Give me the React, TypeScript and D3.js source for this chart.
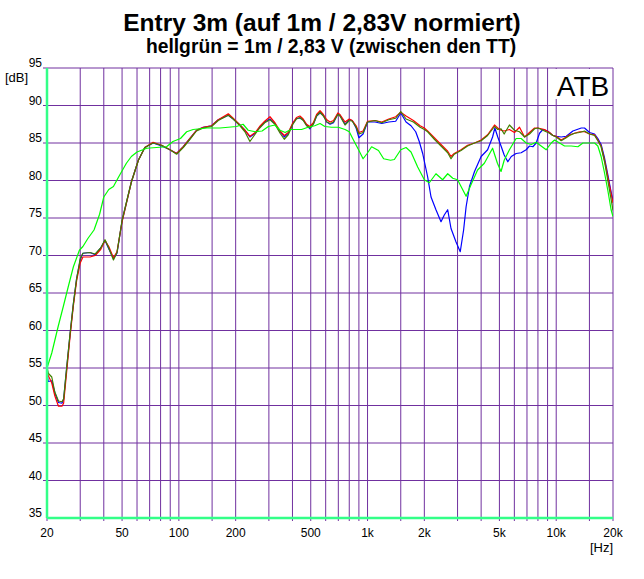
import React from "react";
import * as d3 from "d3";

const W = 644;
const H = 579;

const titleText = "Entry 3m (auf 1m / 2,83V normiert)";
const subtitleText = "hellgrün = 1m / 2,83 V (zwischen den TT)";

const yTicks = [35, 40, 45, 50, 55, 60, 65, 70, 75, 80, 85, 90, 95];
const gridFreqs = [20, 30, 40, 50, 60, 70, 80, 90, 100, 150, 200, 300, 400, 500, 600, 700, 800, 900, 1000, 1500, 2000, 3000, 4000, 5000, 6000, 7000, 8000, 9000, 10000, 15000, 20000];
const xTickValues = [20, 50, 100, 200, 500, 1000, 2000, 5000, 10000, 20000];
const xTickTexts = ["20", "50", "100", "200", "500", "1k", "2k", "5k", "10k", "20k"];

// [Hz, dB]
const redSeries: [number, number][] = [
  [20, 55.0], [20.3, 54.0], [21.2, 53.0], [22, 51.3], [23, 49.9], [24, 49.9], [24.5, 50.3], [25.2, 53.5], [26.5, 59.2], [27.6, 63.3], [28.7, 66.6], [30, 69.0], [31, 69.8], [33.8, 69.8], [36, 70.0], [38.5, 70.8], [40.6, 72.0], [42.5, 71.2], [45, 69.7], [47, 70.5], [50, 74.5], [56, 79.8], [61, 82.7], [66, 84.4], [73, 85.1], [81, 84.7], [89.7, 84.1], [97.3, 83.6], [105.5, 84.5], [114.5, 85.6], [124, 86.7], [134.7, 87.1], [149, 87.3], [161.7, 88.1], [182.8, 88.9], [194, 88.3], [210.8, 87.4], [224, 86.7], [238, 85.9], [254, 86.4], [268, 87.2], [285, 87.9], [304, 88.5], [323, 87.7], [344, 86.6], [362, 86.0], [380, 86.4], [402, 87.7], [420, 88.4], [438, 88.6], [456, 88.2], [475, 87.5], [495, 87.2], [516, 87.7], [537, 88.8], [560, 89.3], [583, 88.8], [608, 88.1], [633, 87.8], [660, 88.0], [696, 89.0], [714, 88.8], [760, 87.8], [800, 88.2], [830, 88.0], [870, 87.3], [900, 86.4], [947, 86.6], [1000, 87.9], [1096, 88.0], [1190, 87.8], [1296, 88.2], [1410, 88.5], [1500, 89.1], [1600, 88.6], [1750, 88.0], [1900, 87.3], [2000, 87.0], [2082, 86.6], [2260, 85.7], [2451, 84.8], [2660, 83.9], [2770, 83.2], [2880, 83.6], [3130, 84.1], [3390, 84.7], [3690, 85.0], [4000, 85.4], [4330, 86.1], [4710, 87.4], [4900, 87.0], [5100, 86.7], [5300, 86.6], [5650, 86.8], [6010, 86.4], [6390, 87.1], [6800, 85.8], [7220, 86.4], [7680, 87.0], [8000, 87.0], [8670, 86.8], [9220, 86.4], [9600, 86.0], [10000, 85.9], [10630, 85.4], [11300, 85.8], [11770, 86.1], [12510, 86.3], [13300, 86.5], [14130, 86.5], [15020, 86.2], [15970, 86.1], [16620, 85.4], [17300, 84.6], [18040, 82.7], [18770, 80.5], [19540, 78.3], [20000, 77.0],
];

const darkGreenSeries: [number, number][] = [
  [20, 55.2], [20.3, 54.3], [21.2, 53.8], [22, 51.8], [23, 50.6], [24, 50.5], [24.5, 50.9], [25.2, 54.1], [26.5, 59.6], [27.6, 63.6], [28.7, 66.9], [30, 69.6], [31, 70.3], [33.8, 70.4], [36, 70.2], [38.5, 71.0], [40.6, 72.1], [42.5, 71.0], [45, 69.4], [47, 70.4], [50, 74.7], [56, 79.8], [61, 82.7], [66, 84.4], [73, 85.0], [81, 84.7], [89.7, 84.1], [97.3, 83.5], [105.5, 84.4], [114.5, 85.5], [124, 86.6], [134.7, 87.0], [149, 87.2], [161.7, 88.0], [182.8, 88.7], [194, 88.2], [210.8, 87.3], [224, 86.5], [238, 85.2], [254, 86.2], [268, 87.0], [285, 87.7], [304, 88.1], [323, 87.5], [344, 86.3], [362, 85.5], [380, 86.1], [402, 87.5], [420, 88.2], [438, 88.4], [456, 88.0], [475, 87.3], [495, 87.0], [516, 87.5], [537, 88.6], [560, 89.1], [583, 88.6], [608, 87.8], [633, 87.6], [660, 87.8], [696, 88.8], [714, 88.6], [760, 87.4], [800, 88.0], [830, 87.9], [870, 87.1], [900, 86.2], [947, 86.4], [1000, 87.8], [1096, 88.0], [1190, 87.7], [1296, 88.1], [1410, 88.3], [1500, 89.2], [1600, 88.2], [1750, 87.8], [1900, 87.1], [2000, 86.8], [2082, 86.5], [2260, 85.5], [2451, 84.6], [2660, 83.7], [2770, 82.9], [2880, 83.5], [3130, 84.0], [3390, 84.6], [3690, 85.0], [4000, 85.3], [4330, 86.0], [4710, 87.2], [4900, 86.8], [5100, 86.9], [5300, 86.2], [5650, 87.4], [6010, 86.7], [6390, 86.5], [6800, 85.8], [7220, 86.2], [7680, 86.9], [8000, 87.0], [8670, 86.6], [9220, 86.3], [9600, 86.0], [10000, 85.8], [10630, 85.3], [11300, 85.7], [11770, 86.0], [12510, 86.3], [13300, 86.4], [14130, 86.6], [15020, 86.2], [15970, 86.0], [16620, 85.3], [17300, 84.5], [18040, 82.5], [18770, 80.0], [19540, 77.5], [20000, 76.0],
];

const blueSeries: [number, number][] = [
  [20, 54.5], [20.3, 53.2], [21.2, 53.3], [22, 51.7], [23, 50.4], [24, 50.3], [24.5, 50.8], [25.2, 54.0], [26.5, 59.5], [27.6, 63.6], [28.7, 66.9], [30, 69.4], [31, 70.3], [33.8, 70.4], [36, 70.1], [38.5, 71.0], [40.6, 72.0], [42.5, 70.9], [45, 69.6], [47, 70.3], [50, 74.6], [56, 79.8], [61, 82.7], [66, 84.4], [73, 85.0], [81, 84.6], [89.7, 84.1], [97.3, 83.6], [105.5, 84.5], [114.5, 85.6], [124, 86.7], [134.7, 87.1], [149, 87.3], [161.7, 88.1], [182.8, 88.7], [194, 88.2], [210.8, 87.4], [224, 86.7], [238, 85.8], [254, 86.3], [268, 87.1], [285, 87.8], [304, 88.2], [323, 87.6], [344, 86.5], [362, 85.8], [380, 86.3], [402, 87.6], [420, 88.3], [438, 88.3], [456, 88.1], [475, 87.4], [495, 86.9], [516, 87.5], [537, 88.6], [560, 89.0], [583, 88.7], [608, 87.8], [633, 87.5], [660, 87.7], [696, 88.9], [714, 88.7], [760, 87.5], [800, 88.1], [830, 88.0], [870, 87.0], [900, 85.7], [947, 86.2], [1000, 87.8], [1096, 87.8], [1190, 87.6], [1296, 87.8], [1410, 87.9], [1500, 89.0], [1600, 87.8], [1700, 87.3], [1800, 86.5], [1880, 85.2], [1960, 83.6], [2082, 80.5], [2170, 77.8], [2305, 76.1], [2451, 74.5], [2551, 75.4], [2660, 76.1], [2770, 73.6], [2945, 71.8], [3100, 70.5], [3230, 73.4], [3330, 76.5], [3470, 79.2], [3690, 81.2], [4000, 83.2], [4330, 84.1], [4600, 85.8], [4730, 87.0], [4900, 85.8], [5100, 84.6], [5300, 83.4], [5540, 82.5], [5780, 83.2], [6130, 83.6], [6520, 83.7], [6930, 84.1], [7220, 84.6], [7520, 84.5], [7830, 85.0], [8160, 86.3], [8500, 86.8], [9000, 86.6], [9600, 86.0], [10000, 85.9], [10630, 85.8], [11300, 85.9], [12260, 86.6], [13580, 87.0], [14130, 87.0], [15020, 86.4], [15970, 86.2], [16620, 85.6], [17300, 84.8], [18040, 83.0], [18770, 80.8], [19540, 78.5], [20000, 77.3],
];

const lightGreenSeries: [number, number][] = [
  [20, 55.0], [21.2, 57.0], [22.9, 60.5], [24.4, 63.2], [25.9, 65.8], [27.6, 68.5], [29.7, 70.7], [31, 71.2], [33, 72.3], [35.5, 73.4], [38, 75.5], [40, 77.8], [42.5, 78.8], [45, 79.2], [48, 80.5], [52.7, 82.3], [56, 83.2], [60, 83.8], [67.5, 84.3], [76, 84.4], [86, 84.5], [93, 85.2], [102, 85.6], [110, 86.5], [119, 86.8], [141, 87.0], [165, 87.0], [202, 87.2], [219, 87.5], [233, 86.7], [254, 86.5], [276, 86.6], [298, 87.2], [323, 87.4], [344, 86.7], [366, 86.4], [392, 86.8], [447, 86.8], [484, 87.1], [525, 87.3], [560, 87.6], [594, 87.2], [644, 87.1], [700, 87.1], [760, 86.8], [800, 86.5], [842, 85.4], [892, 84.2], [947, 82.9], [995, 83.6], [1051, 84.5], [1143, 84.0], [1217, 82.9], [1324, 82.7], [1387, 82.8], [1500, 84.1], [1600, 84.4], [1700, 83.8], [1844, 81.8], [2000, 80.1], [2125, 79.7], [2305, 80.9], [2500, 80.1], [2660, 80.9], [2830, 80.3], [3000, 80.1], [3330, 77.9], [3530, 79.4], [3830, 81.4], [4160, 82.3], [4600, 84.3], [4880, 82.3], [5100, 81.2], [5300, 82.7], [5650, 84.1], [6130, 85.6], [6520, 85.6], [6930, 85.0], [7370, 84.8], [7830, 85.1], [8320, 84.6], [8850, 84.1], [9410, 85.0], [9800, 85.4], [10420, 85.0], [11070, 84.6], [12010, 84.6], [13030, 84.5], [13850, 85.0], [15020, 85.0], [15970, 85.0], [16620, 84.6], [17300, 83.2], [18040, 81.0], [18770, 78.7], [19540, 76.1], [20000, 75.2],
];

const FONT = "'Liberation Sans', Arial, sans-serif";
const GRID = "#70309F";
const AXIS = "#33FF88";

export default function App() {
  const left = 47, right = 613, top = 68, bottom = 518;
  const x = d3.scaleLog().domain([20, 20000]).range([left, right]);
  const y = d3.scaleLinear().domain([35, 95]).range([bottom, top]);
  const line = d3.line<[number, number]>().x((d) => x(d[0])).y((d) => y(d[1])).curve(d3.curveLinear);

  return (
    <svg width={W} height={H} style={{ position: "absolute", left: 0, top: 0, background: "#fff" }} fontFamily={FONT}>
      <rect x={0} y={0} width={W} height={H} fill="#fff" />
      <defs>
        <clipPath id="plot">
          <rect x={left} y={top} width={right - left} height={bottom - top} />
        </clipPath>
      </defs>
      <text x={322} y={31} textAnchor="middle" fontSize={24.5} fontWeight="bold" fill="#000">{titleText}</text>
      <text x={331} y={53} textAnchor="middle" fontSize={19.3} fontWeight="bold" fill="#000">{subtitleText}</text>

      {yTicks.filter((t) => t > 35).map((t) => (
        <line key={"h" + t} x1={left - 4} x2={right} y1={y(t)} y2={y(t)} stroke={GRID} strokeWidth={1} />
      ))}
      {gridFreqs.map((f) => (
        <line key={"v" + f} x1={x(f)} x2={x(f)} y1={top} y2={bottom + 3} stroke={GRID} strokeWidth={1} />
      ))}

      <g clipPath="url(#plot)" fill="none" strokeWidth={1.2} strokeLinejoin="round">
        <path d={line(blueSeries) || ""} stroke="#0000FF" />
        <path d={line(redSeries) || ""} stroke="#FF0000" />
        <path d={line(darkGreenSeries) || ""} stroke="#408000" />
        <path d={line(lightGreenSeries) || ""} stroke="#00FF00" />
      </g>

      <line x1={left} x2={left} y1={top} y2={bottom} stroke={AXIS} strokeWidth={2.5} />
      <line x1={left} x2={right} y1={bottom} y2={bottom} stroke={AXIS} strokeWidth={2.5} />

      <rect x={552} y={69} width={60} height={30} fill="#fff" />
      <text x={583} y={96} textAnchor="middle" fontSize={28} fill="#000">ATB</text>

      {yTicks.map((t) => (
        <text key={"yl" + t} x={42} y={y(t) - 1} textAnchor="end" fontSize={12} fill="#000">{t}</text>
      ))}
      <text x={5} y={82} fontSize={13} fill="#000">[dB]</text>

      {xTickValues.map((f, i) => (
        <text key={"xl" + f} x={x(f)} y={537} textAnchor="middle" fontSize={12} fill="#000">{xTickTexts[i]}</text>
      ))}
      <text x={613} y={552} textAnchor="end" fontSize={13} fill="#000">[Hz]</text>
    </svg>
  );
}
